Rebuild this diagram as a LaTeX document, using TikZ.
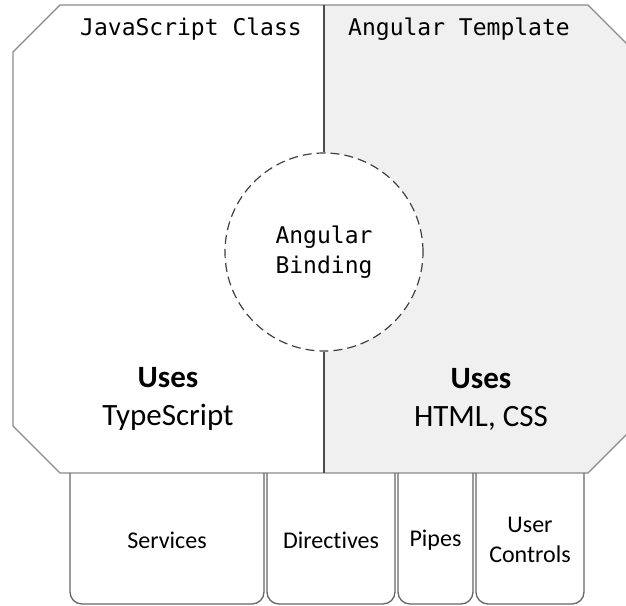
\documentclass[tikz,border=0pt]{standalone}
\usepackage{fontspec}
\setmainfont{Carlito}[Ligatures = NoCommon]
\setmonofont{DejaVu Sans Mono}
\usepackage{xcolor}
\definecolor{edgegray}{HTML}{8A8A8A}
\definecolor{tplfill}{HTML}{F0F0F0}

\begin{document}
\begin{tikzpicture}[x = 1pt, y = 1pt,
    outline/.style = {draw = edgegray, line width = 1.3pt},
    mono/.style = {font = \ttfamily\fontsize{23}{30}\selectfont, align = center},
    uses/.style = {font = \fontsize{31}{38}\selectfont, align = center},
    part/.style = {font = \fontsize{24}{30}\selectfont, align = center}]
        \clip (0, 0) rectangle (626, 605);

        % template half
        \fill [tplfill] (324, 600) -- (588, 600) -- (635, 553) -- (635, 179) -- (588, 132) -- (324, 132) -- cycle;
        \draw [outline] (60, 600) -- (588, 600) -- (635, 553) -- (635, 179) -- (588, 132)
            -- (60, 132) -- (13, 179) -- (13, 553) -- cycle;

        \node [mono] (jsclass) at (191, 576) {JavaScript Class};
        \node [mono] (ngtpl) at (459, 576) {Angular Template};

        \node [circle, draw = black!75, dash pattern = on 9pt off 5pt, line width = 1.2pt,
            fill = white, minimum size = 198pt, inner sep = 0pt, mono] (binding) at (324, 353) {Angular\\Binding};
        \draw [black!70, line width = 1.3pt] (324, 600) -- (binding.north);
        \draw [black!70, line width = 1.3pt] (binding.south) -- (324, 132);

        \node [uses] (tsuse) at (168, 206) {\textbf{Uses}\\TypeScript};
        \node [uses] (htmluse) at (481, 206) {\textbf{Uses}\\HTML, CSS};

        % parts below
        \foreach \l/\r/\name/\txt in {70/264/services/Services, 267/395/directives/Directives,
            398/473/pipes/Pipes, 476/584/controls/{User\\Controls}}
        {
        \draw [outline, draw = black!60, rounded corners = 12pt] (\l, 132) -- (\l, 1) -- (\r, 1) -- (\r, 132);
        \node [part] (\name) at ({(\l + \r)/2}, 65) {\txt};
        }
    \end{tikzpicture}
\end{document}
